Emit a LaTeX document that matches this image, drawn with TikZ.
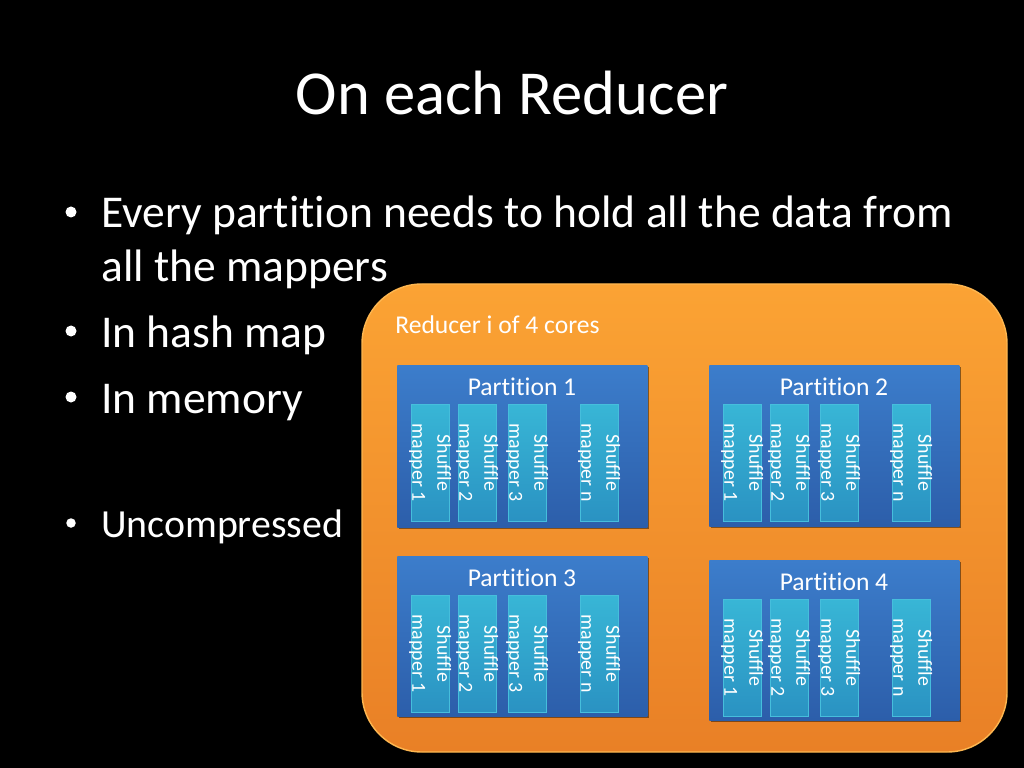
\documentclass[tikz,border=0pt]{standalone}
\usepackage{fontspec}
\setmainfont{Carlito}[Ligatures=NoCommon]
\usetikzlibrary{shadows}
\definecolor{orgtop}{RGB}{251,163,52}
\definecolor{orgbot}{RGB}{233,128,38}
\definecolor{orgedge}{RGB}{253,182,80}
\definecolor{partop}{RGB}{60,125,203}
\definecolor{parbot}{RGB}{44,94,170}
\definecolor{coltop}{RGB}{56,182,214}
\definecolor{colbot}{RGB}{42,146,194}
\definecolor{coledge}{RGB}{70,190,220}
\tikzset{
  txt/.style={text=white, inner sep=0pt},
  titletxt/.style={txt, font=\fontsize{44}{52}\selectfont, anchor=base},
  bultxt/.style={txt, font=\fontsize{32}{38}\selectfont, anchor=base west},
  bulsmall/.style={txt, font=\fontsize{28}{34}\selectfont, anchor=base west},
  dot/.style={circle, fill=white, inner sep=0pt, minimum size=11*0.703125pt},
  dotsmall/.style={circle, fill=white, inner sep=0pt, minimum size=9.5*0.703125pt},
  reducer/.style={draw=orgedge, line width=1pt, top color=orgtop, bottom color=orgbot, rounded corners=42pt},
  partbox/.style={rectangle, inner sep=0pt, top color=partop, bottom color=parbot, draw=none,
    drop shadow={shadow xshift=1.5pt, shadow yshift=-1.5pt, opacity=0.45, fill=black}},
  parttitle/.style={txt, font=\fontsize{18}{21}\selectfont, anchor=base},
  colbox/.style={rectangle, inner sep=0pt, top color=coltop, bottom color=colbot, draw=coledge, line width=0.3pt,
    minimum width=38*0.703125pt, minimum height=117*0.703125pt},
  coltext/.style={txt, font=\fontsize{14}{17.6}\selectfont, align=center, rotate=-90},
}
\newcommand{\partblock}[5]{% name, x, y, h, title
  \node[partbox, anchor=north west, minimum width=250*0.703125pt, minimum height=#4*0.703125pt] (#1) at (#2,#3) {};
  \node[parttitle] (#1t) at (#2+125,#3+30) {#5};
  \foreach \o/\k/\m in {14/1/1, 61/2/2, 111/3/3, 183/4/n} {
    \node[colbox, anchor=north west] (#1c\k) at (#2+\o,#3+39) {};
    \node[coltext] (#1x\k) at (#1c\k.center) {Shuffle\\mapper \m};
  }
}
\begin{document}
\begin{tikzpicture}[x=0.703125pt,y=-0.703125pt]
  \fill[black] (0,0) rectangle (1024,768);
  \useasboundingbox (0,0) rectangle (1024,768);
  % title
  \node[titletxt] (title) at (512,115) {On each Reducer};
  % bullets
  \node[dot] (b1) at (71,212) {};
  \node[bultxt] (t1) at (101,228) {Every partition needs to hold all the data from};
  \node[bultxt] (t1b) at (101,282) {all the mappers};
  \node[dot] (b2) at (71,331) {};
  \node[bultxt] (t2) at (101,347) {In hash map};
  \node[dot] (b3) at (71,397) {};
  \node[bultxt] (t3) at (101,413) {In memory};
  \node[dotsmall] (b4) at (71,523) {};
  \node[bulsmall] (t4) at (101,537) {Uncompressed};
  % reducer box
  \draw[reducer] (362,284) rectangle (1007,752);
  \node[txt, font=\fontsize{18}{21}\selectfont, anchor=base west] (red) at (395,333) {Reducer i of 4 cores};
  % partitions
  \partblock{p1}{397}{365}{162}{Partition 1}
  \partblock{p2}{709}{365}{161}{Partition 2}
  \partblock{p3}{397}{556}{160}{Partition 3}
  \partblock{p4}{709}{560}{160}{Partition 4}
\end{tikzpicture}
\end{document}
